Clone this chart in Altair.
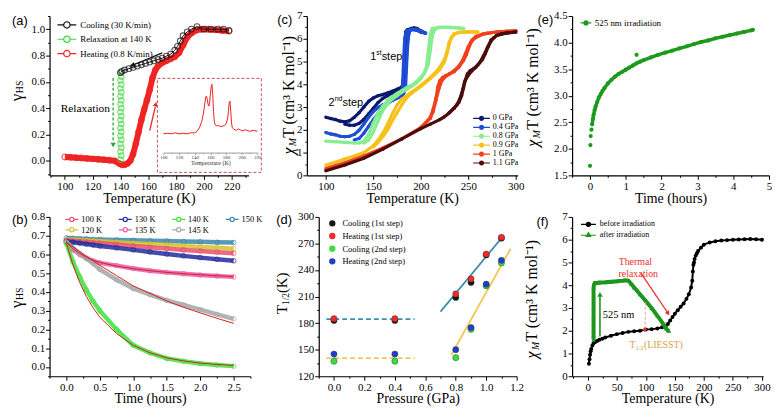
import math
import altair as alt
import pandas as pd

SERIF = "Liberation Serif"
SANS = "Liberation Sans"

# ======================= DATA =======================
# ---- (a) gamma_HS vs T ----
a_series = ["Cooling (30 K/min)", "Relaxation at 140 K", "Heating (0.8 K/min)"]
a_colors = ["#111111", "#3ad83a", "#f02424"]
a_cool_T = [218, 214, 210, 205, 200, 195, 191, 188, 185, 183, 181, 179, 176, 173, 170, 167, 164, 161, 158, 155, 152, 149, 146, 143, 141, 140]
a_cool_y = [0.99, 1.00, 1.00, 1.00, 1.00, 1.02, 1.00, 0.98, 0.95, 0.91, 0.87, 0.84, 0.81, 0.795, 0.78, 0.77, 0.76, 0.75, 0.74, 0.73, 0.72, 0.71, 0.70, 0.69, 0.68, 0.67]
a_relax_T = [140.0, 140.6, 140.0, 140.6, 140.0, 140.6, 140.0, 140.6, 140.0, 140.6, 140.0, 140.6, 140.0, 140.6, 140.0, 140.6, 140.0, 140.6, 140.0, 140.6, 140.0, 140.6, 140.0]
a_relax_y = [0.67, 0.64, 0.61, 0.58, 0.55, 0.52, 0.49, 0.46, 0.43, 0.40, 0.37, 0.34, 0.31, 0.28, 0.25, 0.22, 0.19, 0.16, 0.13, 0.10, 0.07, 0.04, 0.01]
a_heat_T = [100, 104, 108, 112, 116, 120, 124, 128, 132, 136, 139, 141, 143, 145, 147, 149, 151, 153, 155, 157, 159, 161, 163, 165, 167, 170, 173, 176, 179, 182, 185, 188, 191, 194, 198, 203, 208, 213, 218]
a_heat_y = [0.03, 0.027, 0.024, 0.021, 0.018, 0.015, 0.012, 0.009, 0.005, 0.0, -0.02, -0.03, -0.03, -0.02, 0.0, 0.05, 0.13, 0.22, 0.31, 0.39, 0.46, 0.54, 0.63, 0.69, 0.72, 0.745, 0.76, 0.775, 0.79, 0.82, 0.88, 0.94, 0.97, 0.99, 1.0, 1.0, 0.995, 0.99, 0.985]
a_inset_T = [100, 105, 110, 115, 120, 125, 130, 135, 140, 143, 146, 149, 151, 153, 154, 155, 156, 157, 158, 159, 160, 161, 162, 163, 164, 165, 166, 168, 170, 172, 175, 178, 180, 182, 183, 184, 185, 186, 187, 188, 190, 193, 196, 200, 205, 210, 215, 220]
a_inset_v = [0.0, 0.01, 0.0, 0.02, 0.0, 0.01, 0.0, 0.02, 0.02, 0.05, 0.12, 0.25, 0.4, 0.62, 0.74, 0.76, 0.7, 0.6, 0.56, 0.62, 0.8, 0.95, 1.0, 0.8, 0.45, 0.25, 0.18, 0.16, 0.17, 0.15, 0.15, 0.17, 0.2, 0.3, 0.45, 0.62, 0.66, 0.45, 0.22, 0.12, 0.09, 0.07, 0.1, 0.06, 0.08, 0.05, 0.07, 0.05]

# ---- (b) relaxation curves ----
b_names = ["100 K", "120 K", "130 K", "135 K", "140 K", "145 K", "150 K"]
b_colors = ["#e8506e", "#d6c22e", "#222c9c", "#ea5aa8", "#3ee23e", "#a6a6a6", "#3d86a8"]
b_t = [0.0, 0.1, 0.2, 0.3, 0.4, 0.5, 0.75, 1.0, 1.25, 1.5, 1.75, 2.0, 2.25, 2.5]
b_100 = [0.675, 0.672, 0.669, 0.666, 0.663, 0.660, 0.653, 0.645, 0.638, 0.631, 0.624, 0.618, 0.612, 0.606]
b_120 = [0.680, 0.678, 0.676, 0.674, 0.672, 0.670, 0.665, 0.660, 0.655, 0.650, 0.645, 0.640, 0.635, 0.630]
b_130 = [0.670, 0.665, 0.660, 0.655, 0.650, 0.645, 0.635, 0.624, 0.613, 0.602, 0.592, 0.583, 0.574, 0.566]
b_135 = [0.665, 0.625, 0.600, 0.580, 0.565, 0.555, 0.540, 0.525, 0.513, 0.504, 0.497, 0.490, 0.485, 0.480]
b_140 = [0.660, 0.560, 0.480, 0.410, 0.350, 0.300, 0.200, 0.115, 0.075, 0.045, 0.030, 0.018, 0.010, 0.004]
b_145 = [0.665, 0.635, 0.605, 0.578, 0.552, 0.520, 0.465, 0.418, 0.385, 0.355, 0.330, 0.305, 0.280, 0.256]
b_150 = [0.688, 0.686, 0.684, 0.682, 0.680, 0.679, 0.677, 0.675, 0.673, 0.671, 0.669, 0.667, 0.665, 0.663]
b_fit135 = [0.665, 0.630, 0.605, 0.585, 0.569, 0.557, 0.538, 0.524, 0.513, 0.504, 0.497, 0.491, 0.486, 0.482]
b_fit140 = [0.660, 0.545, 0.450, 0.375, 0.315, 0.265, 0.178, 0.115, 0.075, 0.048, 0.032, 0.020, 0.013, 0.008]
b_fit145 = [0.665, 0.640, 0.615, 0.590, 0.566, 0.542, 0.487, 0.432, 0.392, 0.352, 0.318, 0.288, 0.259, 0.232]

# ---- (c) chiMT vs T under pressure ----
c_names = ["0 GPa", "0.4 GPa", "0.8 GPa", "0.9 GPa", "1 GPa", "1.1 GPa"]
c_colors = ["#0b1a6e", "#1f4ed6", "#86ee8e", "#f6c21a", "#f2401c", "#4b0c0c"]
c0_hT = [100, 105, 110, 115, 120, 125, 130, 135, 140, 145, 150, 155, 160, 165, 170, 175, 180, 182, 184, 185, 186, 187, 188, 190, 193, 196, 200, 203, 205]
c0_hy = [2.55, 2.50, 2.45, 2.38, 2.35, 2.40, 2.55, 2.75, 3.00, 3.25, 3.40, 3.50, 3.55, 3.62, 3.70, 3.78, 3.88, 4.00, 4.50, 5.30, 5.90, 6.20, 6.35, 6.45, 6.48, 6.45, 6.35, 6.28, 6.25]
c0_cT = [205, 200, 195, 190, 186, 184, 183, 182, 181, 180, 175, 170, 165, 160, 155, 150, 145, 140, 135, 130, 125, 120]
c0_cy = [6.25, 6.30, 6.40, 6.45, 6.40, 6.30, 5.50, 4.30, 4.00, 3.85, 3.72, 3.62, 3.50, 3.38, 3.20, 2.95, 2.70, 2.45, 2.28, 2.20, 2.20, 2.25]
c4_hT = [100, 105, 110, 115, 120, 125, 130, 135, 140, 145, 150, 155, 160, 165, 170, 175, 180, 182, 184, 185, 186, 187, 188, 190, 195, 200, 205]
c4_hy = [1.88, 1.82, 1.78, 1.72, 1.70, 1.72, 1.80, 1.98, 2.25, 2.55, 2.80, 2.98, 3.10, 3.20, 3.30, 3.40, 3.50, 3.60, 3.90, 4.80, 5.60, 6.10, 6.30, 6.42, 6.42, 6.35, 6.25]
c4_cT = [205, 200, 195, 190, 185, 183, 182, 181, 180, 175, 170, 165, 160, 155, 150, 145, 140, 135, 130]
c4_cy = [6.25, 6.30, 6.38, 6.40, 6.35, 6.00, 5.20, 4.20, 3.50, 3.40, 3.30, 3.15, 2.95, 2.72, 2.45, 2.15, 1.85, 1.62, 1.55]
c8_hT = [100, 110, 120, 130, 135, 140, 145, 150, 155, 160, 165, 170, 175, 180, 185, 190, 195, 200, 205, 208, 210, 212, 214, 216, 220, 230, 240, 245]
c8_hy = [1.50, 1.48, 1.45, 1.42, 1.42, 1.50, 1.80, 2.30, 2.75, 3.05, 3.30, 3.45, 3.60, 3.72, 3.85, 3.95, 4.10, 4.30, 4.60, 4.90, 5.50, 6.10, 6.35, 6.45, 6.50, 6.50, 6.48, 6.45]
c8_cT = [245, 240, 230, 220, 212, 210, 208, 206, 204, 200, 195, 190, 185, 180, 175, 170, 165, 160, 155, 150, 145, 140]
c8_cy = [6.45, 6.48, 6.50, 6.50, 6.45, 6.20, 5.50, 4.80, 4.50, 4.25, 4.05, 3.90, 3.78, 3.65, 3.50, 3.35, 3.15, 2.85, 2.40, 1.90, 1.55, 1.42]
c9_hT = [100, 110, 120, 130, 140, 150, 155, 160, 165, 170, 175, 180, 185, 190, 200, 210, 215, 220, 225, 228, 230, 233, 236, 240, 250, 260]
c9_hy = [0.45, 0.58, 0.72, 0.85, 1.00, 1.30, 1.55, 1.85, 2.25, 2.70, 3.10, 3.35, 3.50, 3.65, 3.95, 4.30, 4.50, 4.75, 5.10, 5.50, 5.85, 6.10, 6.22, 6.28, 6.30, 6.30]
c9_cT = [260, 250, 240, 235, 232, 230, 228, 225, 222, 220, 215, 210, 200, 190, 185, 180, 175, 170, 165, 160, 155, 150]
c9_cy = [6.30, 6.30, 6.28, 6.22, 6.05, 5.80, 5.40, 5.00, 4.80, 4.65, 4.45, 4.25, 3.90, 3.60, 3.40, 3.10, 2.75, 2.40, 2.00, 1.70, 1.45, 1.25]
c10_hT = [100, 120, 140, 160, 180, 200, 205, 210, 213, 216, 218, 220, 223, 226, 230, 235, 240, 245, 248, 250, 253, 256, 260, 265, 270, 280, 290, 300]
c10_hy = [0.30, 0.55, 0.85, 1.20, 1.60, 2.10, 2.30, 2.55, 2.90, 3.40, 3.90, 4.15, 4.30, 4.38, 4.45, 4.55, 4.75, 5.05, 5.30, 5.55, 5.85, 6.00, 6.10, 6.20, 6.25, 6.30, 6.33, 6.35]
c10_cT = [300, 280, 265, 258, 254, 250, 247, 244, 240, 235, 230, 225, 222, 219, 216, 213, 210, 205, 200]
c10_cy = [6.35, 6.30, 6.20, 6.10, 5.95, 5.65, 5.35, 5.05, 4.80, 4.60, 4.45, 4.30, 4.15, 3.80, 3.30, 2.80, 2.50, 2.30, 2.10]
c11_hT = [100, 120, 140, 160, 180, 200, 210, 220, 225, 230, 235, 240, 243, 245, 247, 249, 252, 256, 260, 265, 268, 271, 274, 277, 280, 285, 290, 300]
c11_hy = [0.20, 0.45, 0.75, 1.15, 1.60, 2.05, 2.25, 2.45, 2.58, 2.75, 2.95, 3.20, 3.50, 3.85, 4.20, 4.45, 4.60, 4.70, 4.85, 5.10, 5.35, 5.65, 5.90, 6.05, 6.15, 6.22, 6.25, 6.30]
c11_cT = [300, 290, 280, 274, 270, 266, 262, 258, 254, 250, 246, 244, 241, 238, 235, 230]
c11_cy = [6.30, 6.25, 6.15, 5.95, 5.60, 5.25, 4.95, 4.75, 4.60, 4.40, 4.10, 3.75, 3.35, 3.10, 2.95, 2.75]

# ---- (d) T1/2 vs pressure ----
d_names = ["Cooling (1st step)", "Heating (1st step)", "Cooling (2nd step)", "Heating (2nd step)"]
d_colors = ["#151515", "#ee2a2a", "#3ddc3d", "#1f3fc8"]
d_P = [0.0, 0.4, 0.8, 0.9, 1.0, 1.1]
d_cool1 = [183, 183, 209, 226, 257, 276]
d_heat1 = [185, 185, 213, 230, 258, 277]
d_cool2 = [137, 137, 141, 173, 222, 248]
d_heat2 = [145, 145, 150, 175, 224, 251]
d_fit1_P = [0.70, 1.10]
d_fit1_T = [193, 276]
d_fit2_P = [0.77, 1.16]
d_fit2_T = [144, 264]
d_flat_P = [-0.05, 0.53]
d_flat1_T = [184.5, 184.5]
d_flat2_T = [140.5, 140.5]

# ---- (e) chiMT vs time under 525 nm ----
e_t = [0.0, 0.01, 0.02, 0.04, 0.06, 0.08, 0.10, 0.13, 0.16, 0.20, 0.25, 0.30, 0.35, 0.40, 0.50, 0.60, 0.70, 0.80, 0.90, 1.00, 1.10, 1.20, 1.30, 1.40, 1.50, 1.70, 1.90, 2.10, 2.30, 2.50, 2.70, 2.90, 3.10, 3.30, 3.50, 3.70, 3.90, 4.10, 4.30, 4.50, 4.55]
e_y = [1.68, 2.07, 2.24, 2.36, 2.46, 2.56, 2.64, 2.73, 2.80, 2.88, 2.97, 3.03, 3.09, 3.14, 3.23, 3.30, 3.36, 3.41, 3.45, 3.49, 3.53, 3.57, 3.61, 3.64, 3.67, 3.72, 3.77, 3.81, 3.85, 3.89, 3.93, 3.97, 4.01, 4.04, 4.08, 4.11, 4.14, 4.17, 4.20, 4.23, 4.24]
e_out_t = [1.30]
e_out_y = [3.77]

# ---- (f) chiMT vs T before / after irradiation ----
f_names = ["before irradiation", "after irradiation"]
f_colors = ["#000000", "#1c961c"]
f_bT = [2, 3, 4, 5, 6, 8, 10, 13, 16, 20, 25, 30, 40, 50, 60, 70, 80, 90, 100, 110, 120, 128, 134, 138, 142, 146, 150, 155, 160, 165, 170, 174, 178, 180, 181, 182, 183, 184, 186, 188, 190, 195, 200, 210, 220, 230, 240, 250, 260, 270, 280, 290, 300]
f_by = [0.55, 0.75, 0.95, 1.10, 1.20, 1.35, 1.45, 1.50, 1.55, 1.60, 1.65, 1.70, 1.78, 1.85, 1.90, 1.95, 1.98, 2.00, 2.05, 2.07, 2.10, 2.15, 2.20, 2.30, 2.45, 2.60, 2.75, 2.90, 3.05, 3.20, 3.40, 3.60, 3.90, 4.20, 4.60, 4.90, 5.00, 5.15, 5.30, 5.40, 5.50, 5.65, 5.78, 5.88, 5.93, 5.96, 5.98, 6.00, 6.01, 6.02, 6.03, 6.02, 6.00]
f_gT = [10, 10, 10, 10, 10, 10, 10, 10, 11, 12, 15, 20, 30, 40, 50, 60, 65, 70, 75, 80, 90, 100, 110, 120, 130, 135, 138, 140]
f_gy = [1.60, 1.80, 2.00, 2.30, 2.60, 3.00, 3.50, 3.90, 4.05, 4.10, 4.10, 4.12, 4.13, 4.15, 4.17, 4.20, 4.22, 4.20, 4.05, 3.90, 3.60, 3.30, 3.00, 2.65, 2.30, 2.10, 2.02, 2.00]

# ======================= HELPERS =======================
ONE = pd.DataFrame({"k": [0]})


def lin(dom, rng=None):
    if rng is None:
        return alt.Scale(domain=dom, nice=False, zero=False)
    return alt.Scale(domain=dom, range=rng, nice=False, zero=False)


def tick_axis(dom, major, minor, fmt, title=None, label_size=11, tmaj=4, tmin=2, **extra):
    k0 = math.ceil(dom[0] / minor - 1e-6)
    k1 = math.floor(dom[1] / minor + 1e-6)
    vals = [round(k * minor, 6) for k in range(k0, k1 + 1)]
    test = f"abs(datum.value / {major} - round(datum.value / {major})) < 0.001"
    kw = dict(values=vals, labelExpr=f"({test}) ? format(datum.value, '{fmt}') : ''",
              tickSize={"condition": {"test": test, "value": tmaj}, "value": tmin},
              grid=False, labelFlush=False, labelOverlap=False, labelFontSize=label_size,
              labelFont=SERIF, titleFont=SERIF, titleFontSize=14, titleFontWeight="normal",
              labelColor="black", titleColor="black", domainColor="black", tickColor="black",
              domainWidth=1.2, tickWidth=1, labelPadding=1, titlePadding=0, title=title)
    kw.update(extra)
    return alt.Axis(**kw)


class Pan:
    def __init__(self, xs, ys, xax, yax):
        self.xs, self.ys, self.xax, self.yax = xs, ys, xax, yax

    def X(self, f):
        return alt.X(f"{f}:Q", scale=self.xs, axis=self.xax)

    def Y(self, f):
        return alt.Y(f"{f}:Q", scale=self.ys, axis=self.yax)

    def XD(self, v):
        return alt.XDatum(v, scale=self.xs, axis=self.xax)

    def YD(self, v):
        return alt.YDatum(v, scale=self.ys, axis=self.yax)


def bound_rect(x1, x2, y1, y2):
    return alt.Chart(ONE).mark_rect(opacity=0).encode(
        x=alt.value(x1), x2=alt.value(x2), y=alt.value(y1), y2=alt.value(y2))


def ptext(text, x, y, size, font=SERIF, color="black", angle=None, align="left",
          baseline="middle", dx=None, dy=None, italic=False):
    kw = dict(text=text, fontSize=size, font=font, color=color, align=align, baseline=baseline)
    if angle is not None:
        kw["angle"] = angle
    if dx is not None:
        kw["dx"] = dx
    if dy is not None:
        kw["dy"] = dy
    if italic:
        kw["fontStyle"] = "italic"
    return alt.Chart(ONE).mark_text(**kw).encode(x=alt.value(x), y=alt.value(y))


def dtext(text, xv, yv, p, size, font=SERIF, color="black", align="center",
          baseline="middle", dx=None, dy=None):
    kw = dict(text=text, fontSize=size, font=font, color=color, align=align, baseline=baseline)
    if dx is not None:
        kw["dx"] = dx
    if dy is not None:
        kw["dy"] = dy
    return alt.Chart(ONE).mark_text(**kw).encode(x=p.XD(xv), y=p.YD(yv))


def drule(x1, y1, x2, y2, p, color, width=1.3, dash=None):
    kw = dict(color=color, strokeWidth=width)
    if dash:
        kw["strokeDash"] = dash
    return alt.Chart(ONE).mark_rule(**kw).encode(
        x=p.XD(x1), y=p.YD(y1), x2=alt.X2Datum(x2), y2=alt.Y2Datum(y2))


def dhead(xv, yv, p, color, angle, size=30):
    return alt.Chart(ONE).mark_point(shape="triangle-up", filled=True, color=color, size=size,
                                     angle=angle, opacity=1).encode(x=p.XD(xv), y=p.YD(yv))


def circ(r):
    return f"M{r:.3f},0A{r:.3f},{r:.3f} 0 1,1 {-r:.3f},0A{r:.3f},{r:.3f} 0 1,1 {r:.3f},0Z"


def tri(r):
    return f"M0,{-r:.3f}L{0.866 * r:.3f},{0.5 * r:.3f}L{-0.866 * r:.3f},{0.5 * r:.3f}Z"


def sym_open(h, r):
    return f"M{-h:.3f},0L{-r:.3f},0M{r:.3f},0L{h:.3f},0" + circ(r)


def sym_dot(h, r, lines=True):
    p = circ(r) + circ(r * 0.62) + circ(r * 0.25)
    if lines:
        p = f"M{-h:.3f},0L{-r:.3f},0M{r:.3f},0L{h:.3f},0" + p
    return p


def sym_tri(h, r):
    return (f"M{-h:.3f},0L{-0.45 * r:.3f},0M{0.45 * r:.3f},0L{h:.3f},0"
            + tri(r) + tri(r * 0.6) + tri(r * 0.25))


def gamma_title(x, y):
    return [ptext("γ", x, y, 17, angle=270),
            ptext("HS", x, y, 10, angle=270, dx=8, dy=3)]


def chi_title(x, y):
    return [ptext("χ", x, y, 16, angle=270, italic=True),
            ptext("M", x, y, 10, angle=270, dx=8.5, dy=4, italic=True),
            ptext("T (cm³ K mol⁻¹)", x, y, 16, angle=270, dx=17)]


def leg(x, y, sym, size, font, offset, rowpad, **extra):
    kw = dict(orient="none", legendX=x, legendY=y, title=None, symbolType=sym, symbolSize=size,
              symbolStrokeWidth=1.2, symbolOpacity=1, labelFont=SERIF, labelFontSize=font,
              labelOffset=offset, rowPadding=rowpad, padding=0, labelColor="black")
    kw.update(extra)
    return alt.Legend(**kw)


# ======================= PANEL (a) =======================
def panel_a():
    W, H = 201, 161
    xd, yd = [89, 232], [-0.11, 1.1]
    p = Pan(lin(xd), lin(yd), tick_axis(xd, 20, 10, "d", "Temperature (K)"), tick_axis(yd, 0.2, 0.1, ".1f"))
    heat = pd.DataFrame({"T": a_heat_T, "y": a_heat_y})
    cool = pd.DataFrame({"T": a_cool_T, "y": a_cool_y})
    relax = pd.DataFrame({"T": a_relax_T, "y": a_relax_y})
    legdf = pd.DataFrame({"s": a_series, "T": [a_cool_T[0], a_relax_T[0], a_heat_T[0]],
                          "y": [a_cool_y[0], a_relax_y[0], a_heat_y[0]]})
    red, green, black = a_colors[2], a_colors[1], a_colors[0]
    main = [
        bound_rect(-38, 226, -6, 196),
        alt.Chart(heat).mark_line(color=red, strokeWidth=6).encode(x=p.X("T"), y=p.Y("y")),
        alt.Chart(heat).mark_point(filled=False, color=red, size=34, strokeWidth=1.2).encode(x=p.X("T"), y=p.Y("y")),
        alt.Chart(relax).mark_point(filled=False, color=green, size=30, strokeWidth=1.2).encode(x=p.X("T"), y=p.Y("y")),
        alt.Chart(cool).mark_line(color=black, strokeWidth=1).encode(x=p.X("T"), y=p.Y("y")),
        alt.Chart(cool).mark_point(filled=False, color=black, size=34, strokeWidth=1.1).encode(x=p.X("T"), y=p.Y("y")),
        alt.Chart(legdf).mark_point(filled=False, opacity=0).encode(
            x=p.X("T"), y=p.Y("y"),
            color=alt.Color("s:N", scale=alt.Scale(domain=a_series, range=a_colors),
                            legend=leg(12, 3.5, sym_open(2.11, 0.71), 81, 9, 8, 1.5))),
        drule(170, 0.82, 149.5, 0.73, p, black, 1.3),
        dhead(148.5, 0.725, p, black, 248, 30),
        drule(134.7, 0.63, 134.7, 0.15, p, "#2aa52a", 1.3, [3, 2]),
        dhead(134.7, 0.12, p, "#2aa52a", 180, 28),
        drule(161, 0.23, 165, 0.41, p, red, 1.3),
        dhead(165.4, 0.43, p, red, 13, 28),
        dtext("Relaxation", 114.7, 0.395, p, 11.5),
        ptext("(a)", -38, 5, 13, font=SANS),
    ] + gamma_title(-33, 86)
    ixd = [100, 220]
    ip = Pan(lin(ixd, [115, 210]), lin([0, 1], [119, 69]),
             tick_axis(ixd, 20, 10, "d", "Temperature (K)", label_size=5, tmaj=2, tmin=1,
                       orient="bottom", offset=-23, labelPadding=0, titleFontSize=6, titlePadding=0,
                       domainWidth=0.6, tickWidth=0.5, domainColor="#555", tickColor="#555",
                       labelColor="#333", titleColor="#333"),
             None)
    idf = pd.DataFrame({"T": a_inset_T, "v": a_inset_v})
    inset = [
        alt.Chart(ONE).mark_rect(filled=False, color="#c85050", strokeDash=[3, 2], strokeWidth=1).encode(
            x=ip.XD(92.4), x2=alt.X2Datum(225), y=ip.YD(1.12), y2=alt.Y2Datum(-0.78)),
        alt.Chart(idf).mark_line(color="#ee2020", strokeWidth=1).encode(x=ip.X("T"), y=ip.Y("v")),
    ]
    return alt.layer(alt.layer(*main), alt.layer(*inset)).resolve_scale(
        x="independent", y="independent").properties(width=W, height=H)


# ======================= PANEL (b) =======================
def panel_b():
    W, H = 203, 161
    xd, yd = [-0.25, 2.75], [-0.05, 0.8]
    p = Pan(lin(xd), lin(yd), tick_axis(xd, 0.5, 0.25, ".1f", "Time (hours)"), tick_axis(yd, 0.1, 0.05, ".1f"))
    vals = dict(zip(b_names, [b_100, b_120, b_130, b_135, b_140, b_145, b_150]))
    cmap = dict(zip(b_names, b_colors))
    draw = ["150 K", "120 K", "100 K", "130 K", "135 K", "145 K", "140 K"]
    layers = [bound_rect(-38, 224, -7, 193)]
    for n in draw:
        df = pd.DataFrame({"t": b_t, "y": vals[n]})
        layers.append(alt.Chart(df).mark_line(color=cmap[n], strokeWidth=4.5, opacity=0.85).encode(
            x=p.X("t"), y=p.Y("y")))
        layers.append(alt.Chart(df).mark_point(filled=False, color=cmap[n], size=22, strokeWidth=1).encode(
            x=p.X("t"), y=p.Y("y")))
    for arr in [b_fit135, b_fit140, b_fit145]:
        fdf = pd.DataFrame({"t": b_t, "y": arr})
        layers.append(alt.Chart(fdf).mark_line(color="#d42020", strokeWidth=1).encode(x=p.X("t"), y=p.Y("y")))
    legdf = pd.DataFrame({"s": b_names, "t": [b_t[0]] * 7, "y": [vals[n][0] for n in b_names]})
    cs = alt.Scale(domain=b_names, range=b_colors)
    layers += [
        alt.Chart(legdf).mark_point(filled=False, opacity=0).encode(
            x=p.X("t"), y=p.Y("y"),
            color=alt.Color("s:N", scale=cs,
                            legend=leg(18, -2, sym_open(1.86, 0.6), 49, 8.5, 5, 1.5, columns=4,
                                       columnPadding=13))),
        ptext("(b)", -38, 3, 13, font=SANS),
    ] + gamma_title(-33, 92)
    return alt.layer(*layers).properties(width=W, height=H)


# ======================= PANEL (c) =======================
def panel_c():
    W, H = 213, 161
    xd, yd = [80, 302], [0, 7]
    p = Pan(lin(xd), lin(yd), tick_axis(xd, 50, 25, "d", "Temperature (K)"), tick_axis(yd, 1, 0.5, "d"))
    branches = [
        (c0_hT, c0_hy, c0_cT, c0_cy),
        (c4_hT, c4_hy, c4_cT, c4_cy),
        (c8_hT, c8_hy, c8_cT, c8_cy),
        (c9_hT, c9_hy, c9_cT, c9_cy),
        (c10_hT, c10_hy, c10_cT, c10_cy),
        (c11_hT, c11_hy, c11_cT, c11_cy),
    ]
    layers = [bound_rect(-34, 217, -6, 196)]
    for col, (hT, hy, cT, cy) in zip(c_colors, branches):
        for T, y in [(hT, hy), (cT, cy)]:
            df = pd.DataFrame({"T": T, "y": y, "i": list(range(len(T)))})
            layers.append(alt.Chart(df).mark_line(color=col, strokeWidth=3.2).encode(
                x=p.X("T"), y=p.Y("y"), order="i:Q"))
            layers.append(alt.Chart(df).mark_circle(color=col, size=12, opacity=1).encode(
                x=p.X("T"), y=p.Y("y")))
    legdf = pd.DataFrame({"s": c_names, "T": [b[0][0] for b in branches], "y": [b[1][0] for b in branches]})
    cs = alt.Scale(domain=c_names, range=c_colors)
    layers += [
        alt.Chart(legdf).mark_point(filled=False, opacity=0).encode(
            x=p.X("T"), y=p.Y("y"),
            color=alt.Color("s:N", scale=cs, legend=leg(172, 99, sym_dot(2.4, 0.57), 50, 8, 6.9, 0))),
        dtext("1", 146.7, 5.2, p, 11, font=SANS, align="left"),
        dtext("st", 146.7, 5.2, p, 7, font=SANS, align="left", dx=6.2, dy=-4),
        dtext(" step", 146.7, 5.2, p, 11, font=SANS, align="left", dx=11.6),
        dtext("2", 102.9, 3.17, p, 11, font=SANS, align="left"),
        dtext("nd", 102.9, 3.17, p, 7, font=SANS, align="left", dx=6.2, dy=-4),
        dtext(" step", 102.9, 3.17, p, 11, font=SANS, align="left", dx=14),
        ptext("(c)", -30, 4, 13, font=SANS),
    ] + chi_title(-18, 140)
    return alt.layer(*layers).properties(width=W, height=H)


# ======================= PANEL (d) =======================
def panel_d():
    W, H = 200, 161
    xd, yd = [-0.1, 1.2], [120, 300]
    p = Pan(lin(xd), lin(yd), tick_axis(xd, 0.2, 0.1, ".1f", "Pressure (GPa)"), tick_axis(yd, 30, 15, "d"))
    teal, gold = "#3f8fae", "#f0c850"
    layers = [bound_rect(-48, 207, -7, 193)]
    for P, T, col, dash in [(d_flat_P, d_flat1_T, teal, [5, 3]), (d_flat_P, d_flat2_T, gold, [5, 3]),
                            (d_fit1_P, d_fit1_T, teal, None), (d_fit2_P, d_fit2_T, gold, None)]:
        kw = dict(color=col, strokeWidth=1.8)
        if dash:
            kw["strokeDash"] = dash
        layers.append(alt.Chart(pd.DataFrame({"P": P, "T": T})).mark_line(**kw).encode(x=p.X("P"), y=p.Y("T")))
    for col, arr in zip(d_colors, [d_cool1, d_heat1, d_cool2, d_heat2]):
        df = pd.DataFrame({"P": d_P, "T": arr})
        layers.append(alt.Chart(df).mark_circle(color=col, size=40, opacity=1, stroke="#333333",
                                                strokeWidth=0.4).encode(x=p.X("P"), y=p.Y("T")))
    legdf = pd.DataFrame({"s": d_names, "P": [d_P[0]] * 4, "T": [d_cool1[0], d_heat1[0], d_cool2[0], d_heat2[0]]})
    cs = alt.Scale(domain=d_names, range=d_colors)
    layers += [
        alt.Chart(legdf).mark_point(filled=False, opacity=0).encode(
            x=p.X("P"), y=p.Y("T"),
            color=alt.Color("s:N", scale=cs, legend=leg(8.7, 1.5, sym_dot(0.6, 0.65, lines=False), 64, 8.5, 5.3, 2.8))),
        ptext("(d)", -43, 3, 13, font=SANS),
        ptext("T", -37, 98, 15, angle=270),
        ptext("1/2", -37, 98, 9.5, angle=270, dx=9, dy=4),
        ptext(" (K)", -37, 98, 15, angle=270, dx=21),
    ]
    return alt.layer(*layers).properties(width=W, height=H)


# ======================= PANEL (e) =======================
def panel_e():
    W, H = 199, 161
    xd, yd = [-0.5, 5], [1.5, 4.5]
    p = Pan(lin(xd), lin(yd), tick_axis(xd, 1, 0.5, "d", "Time (hours)"), tick_axis(yd, 0.5, 0.25, ".1f"))
    green = "#1c9a1c"
    df = pd.DataFrame({"t": e_t, "y": e_y})
    out = pd.DataFrame({"t": e_out_t, "y": e_out_y})
    legdf = pd.DataFrame({"s": ["525 nm irradiation"], "t": [e_t[0]], "y": [e_y[0]]})
    cs = alt.Scale(domain=["525 nm irradiation"], range=[green])
    layers = [
        bound_rect(-47, 202, -6, 196),
        alt.Chart(df).transform_filter("datum.t >= 0.05").mark_line(color=green, strokeWidth=3.5).encode(
            x=p.X("t"), y=p.Y("y")),
        alt.Chart(df).mark_circle(color=green, size=18, opacity=1).encode(x=p.X("t"), y=p.Y("y")),
        alt.Chart(out).mark_circle(color=green, size=18, opacity=1).encode(x=p.X("t"), y=p.Y("y")),
        alt.Chart(legdf).mark_point(filled=False, opacity=0).encode(
            x=p.X("t"), y=p.Y("y"),
            color=alt.Color("s:N", scale=cs, legend=leg(9.5, 2.5, sym_dot(1.83, 0.67), 36, 9, 4.5, 0))),
        ptext("(e)", -35, 4, 13, font=SANS),
    ] + chi_title(-39, 132)
    return alt.layer(*layers).properties(width=W, height=H)


# ======================= PANEL (f) =======================
def panel_f():
    W, H = 193, 161
    xd, yd = [-27, 302], [0, 7]
    p = Pan(lin(xd), lin(yd), tick_axis(xd, 50, 25, "d", "Temperature (K)"), tick_axis(yd, 1, 0.5, "d"))
    black, green = f_colors
    bdf = pd.DataFrame({"T": f_bT, "y": f_by})
    gdf = pd.DataFrame({"T": f_gT, "y": f_gy, "i": list(range(len(f_gT)))})
    legdf = pd.DataFrame({"s": f_names, "T": [f_bT[0], f_gT[0]], "y": [f_by[0], f_gy[0]]})
    cs = alt.Scale(domain=f_names, range=f_colors)
    shs = alt.Scale(domain=f_names, range=[sym_dot(2.14, 0.6), sym_tri(2.14, 0.75)])
    lg = leg(12, 3, sym_dot(2.14, 0.6), 49, 8, 7, 1)
    red, gold = "#e83030", "#d4a24a"
    layers = [
        bound_rect(-47, 200, -7, 193),
        alt.Chart(bdf).mark_line(color=black, strokeWidth=2).encode(x=p.X("T"), y=p.Y("y")),
        alt.Chart(bdf).mark_circle(color=black, size=16, opacity=1).encode(x=p.X("T"), y=p.Y("y")),
        alt.Chart(gdf).mark_line(color=green, strokeWidth=4).encode(x=p.X("T"), y=p.Y("y"), order="i:Q"),
        alt.Chart(gdf).mark_point(shape="triangle-up", filled=True, color=green, size=20, opacity=1).encode(
            x=p.X("T"), y=p.Y("y")),
        alt.Chart(legdf).mark_point(filled=False, opacity=0).encode(
            x=p.X("T"), y=p.Y("y"),
            color=alt.Color("s:N", scale=cs, legend=lg),
            shape=alt.Shape("s:N", scale=shs, legend=lg)),
        drule(21, 1.75, 21, 3.5, p, green, 1.6),
        dhead(21, 3.6, p, green, 0, 30),
        dtext("525 nm", 26, 2.67, p, 10.5, align="left"),
        drule(91, 4.55, 137, 2.82, p, red, 1.2),
        dhead(138.5, 2.76, p, red, 146, 26),
        dtext("Thermal", 82, 5.0, p, 10, color=red),
        dtext("relaxation", 87, 4.48, p, 10, color=red),
        drule(99, 2.05, 99, 3.3, p, "#f0a070", 1, [3, 2]),
        alt.Chart(ONE).mark_point(shape="diamond", filled=True, color=red, size=22, opacity=1).encode(
            x=p.XD(98), y=p.YD(2.05)),
        dtext("T", 72, 1.37, p, 10, color=gold, align="left"),
        dtext("1/2", 72, 1.37, p, 6.5, color=gold, align="left", dx=6, dy=3),
        dtext("(LIESST)", 72, 1.37, p, 10, color=gold, align="left", dx=14.5),
        ptext("(f)", -36, 5, 13, font=SANS),
    ] + chi_title(-40, 143)
    return alt.layer(*layers).properties(width=W, height=H)


row1 = alt.hconcat(panel_a(), panel_c(), panel_e(), spacing=0).resolve_scale(color="independent", shape="independent")
row2 = alt.hconcat(panel_b(), panel_d(), panel_f(), spacing=0).resolve_scale(color="independent", shape="independent")
chart = alt.vconcat(row1, row2, spacing=0).resolve_scale(
    color="independent", shape="independent"
).properties(padding=0).configure(
    style={
        "guide-label": {"font": SERIF, "fill": "black"},
        "guide-title": {"font": SERIF, "fontWeight": "normal", "fill": "black"},
    }
).configure_view(stroke=None).configure_axis(
    labelFont=SERIF, titleFont=SERIF, titleFontWeight="normal", grid=False
)

chart.save("out.html", embed_options={"renderer": "svg", "actions": False})
